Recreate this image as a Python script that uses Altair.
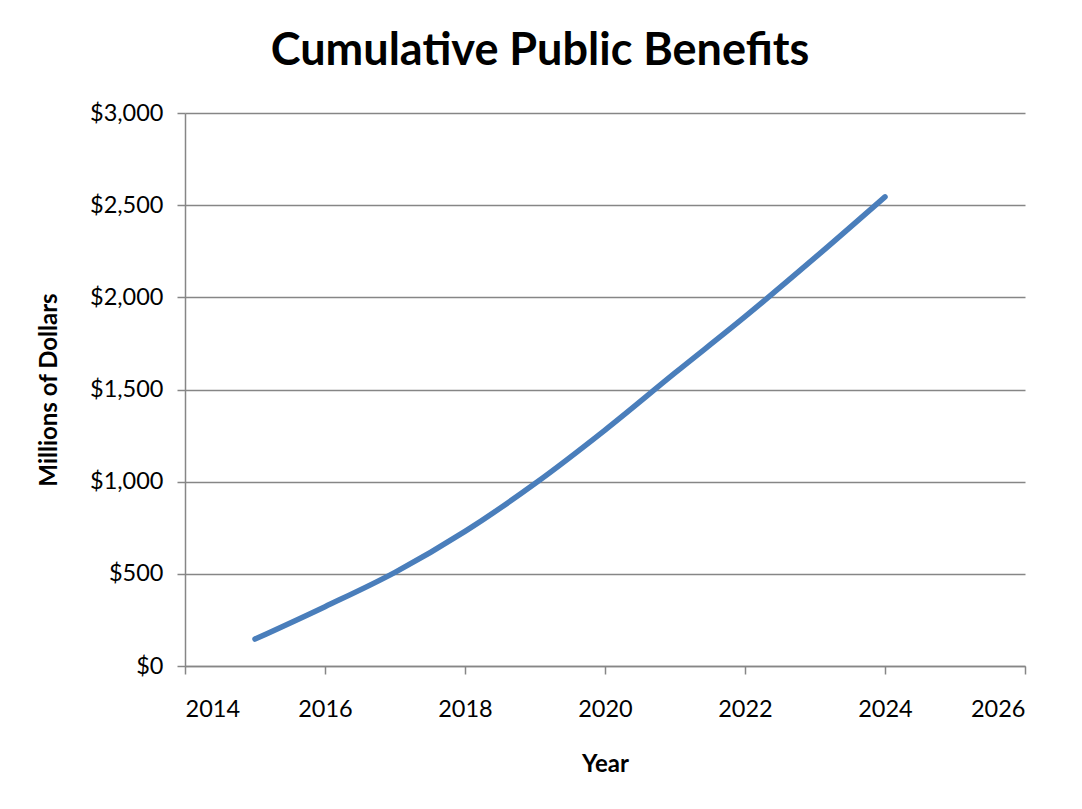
import altair as alt
import pandas as pd

years = [2015, 2016, 2017, 2018, 2019, 2020, 2021, 2022, 2023, 2024]
benefits = [146, 322, 508, 730, 990, 1280, 1590, 1895, 2215, 2545]

df = pd.DataFrame({"Year": years, "Benefits": benefits})

FONT = "Lato"

line = alt.Chart(df).mark_line(
    color="#4A7EBB", strokeWidth=5.5, interpolate="monotone", strokeCap="round"
).encode(
    x=alt.X("Year:Q",
            scale=alt.Scale(domain=[2014, 2026], nice=False, zero=False),
            axis=alt.Axis(values=[2014, 2016, 2018, 2020, 2022, 2024, 2026],
                          format="d", grid=False, title="Year",
                          titlePadding=32)),
    y=alt.Y("Benefits:Q",
            scale=alt.Scale(domain=[0, 3000], nice=False),
            axis=alt.Axis(values=[0, 500, 1000, 1500, 2000, 2500, 3000],
                          format="$,.0f", grid=True, title="Millions of Dollars",
                          titlePadding=28)),
)

chart = line.properties(
    width=840,
    height=553,
    autosize="none",
    padding={"left": 177, "top": 105, "right": 40, "bottom": 125},
    title=alt.TitleParams(
        "Cumulative Public Benefits",
        fontSize=45, font=FONT, fontWeight="bold", color="#000000",
        anchor="middle", dx=-65, offset=27,
    ),
).configure_view(
    stroke=None
).configure_axis(
    labelFont=FONT, labelFontSize=23.5, labelColor="#000000",
    titleFont=FONT, titleFontSize=24, titleFontWeight="bold", titleColor="#000000",
    domainColor="#868686", domainWidth=1.5,
    tickColor="#868686", tickSize=8, tickWidth=1.5,
    gridColor="#868686", gridWidth=1.5,
).configure_axisX(
    labelPadding=23
).configure_axisY(
    labelPadding=14
)

chart.save("out.html", embed_options={"renderer": "svg", "actions": False})
